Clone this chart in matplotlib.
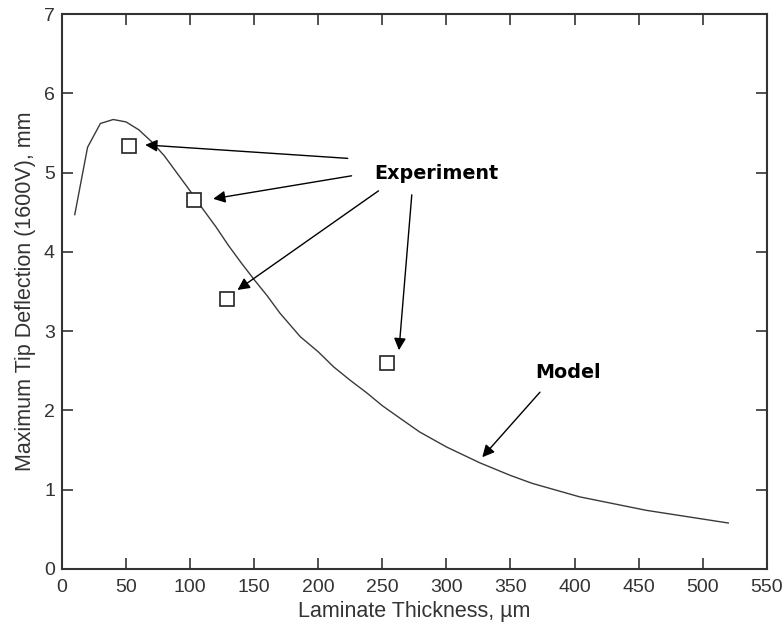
import matplotlib.pyplot as plt

# model curve
thickness = [10, 20, 30, 40, 50, 60, 70, 80, 90, 100, 110, 120, 130, 140, 150,
             160, 170, 186, 200, 212, 225, 238, 250, 264, 279, 300, 326, 350,
             367, 404, 456, 520]
deflection = [4.47, 5.32, 5.62, 5.67, 5.64, 5.54, 5.39, 5.21, 4.99, 4.77, 4.54,
              4.32, 4.08, 3.86, 3.65, 3.45, 3.23, 2.93, 2.74, 2.55, 2.38, 2.22,
              2.06, 1.90, 1.73, 1.54, 1.34, 1.18, 1.08, 0.91, 0.74, 0.58]

# experiment points
exp_thickness = [52, 103, 128.5, 254]
exp_deflection = [5.34, 4.65, 3.40, 2.60]

# arrows: (start, tip)
exp_arrows = [((223, 5.18), (65, 5.35)),
              ((226, 4.96), (118, 4.67)),
              ((247, 4.77), (137, 3.52)),
              ((273, 4.72), (263, 2.76))]
model_arrow = ((373, 2.23), (328, 1.41))

plt.rcParams['font.family'] = ['Liberation Sans', 'DejaVu Sans']

fig = plt.figure(figsize=(7.84, 6.32), dpi=100)
ax = fig.add_axes([0.079, 0.0997, 0.899, 0.878])

ax.plot(thickness, deflection, color='#3a3a3a', lw=1.0)
ax.plot(exp_thickness, exp_deflection, 's', ms=10, mfc='white', mec='#222222', mew=1.2)

for start, tip in exp_arrows:
    ax.annotate('', xy=tip, xytext=start,
                arrowprops=dict(arrowstyle='-|>', color='black', lw=1.0,
                                mutation_scale=18, shrinkA=0, shrinkB=0))
ax.annotate('', xy=model_arrow[1], xytext=model_arrow[0],
            arrowprops=dict(arrowstyle='-|>', color='black', lw=1.0,
                            mutation_scale=18, shrinkA=0, shrinkB=0))

ax.text(292, 4.99, 'Experiment', fontsize=13.8, fontweight='bold', ha='center',
        va='center', family='DejaVu Sans')
ax.text(395, 2.48, 'Model', fontsize=13.8, fontweight='bold', ha='center',
        va='center', family='DejaVu Sans')

ax.set_xlim(0, 550)
ax.set_ylim(0, 7)
ax.set_xticks(range(0, 551, 50))
ax.set_yticks(range(0, 8))
ax.tick_params(direction='in', top=True, right=True, length=8, width=1.2,
               labelsize=14, labelcolor='#333333', color='#333333')
ax.tick_params(axis='x', pad=7)
ax.tick_params(axis='y', pad=5)
for s in ax.spines.values():
    s.set_color('#333333')
    s.set_linewidth(1.5)

ax.set_xlabel('Laminate Thickness, µm', fontsize=15.5, color='#333333', labelpad=4)
ax.set_ylabel('Maximum Tip Deflection (1600V), mm', fontsize=15.5, color='#333333',
              labelpad=6)

fig.savefig('out.png', dpi=100)
